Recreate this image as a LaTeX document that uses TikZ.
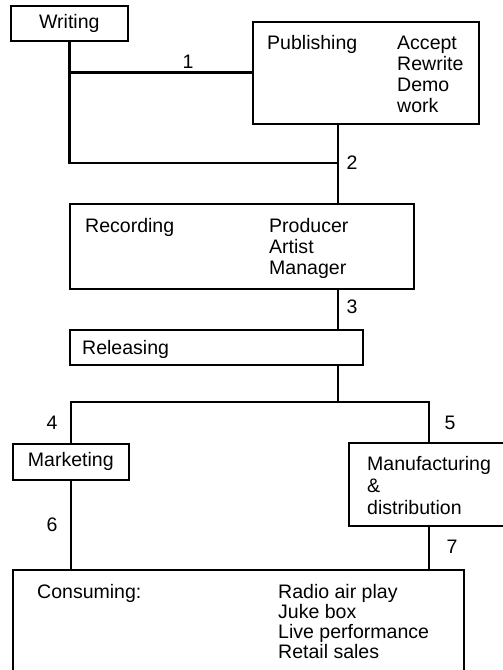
\documentclass[tikz,border=0pt]{standalone}
\usepackage{fontspec}
\setmainfont{Liberation Sans}
\begin{document}
\begin{tikzpicture}[x=1bp, y=-1bp,
  txt/.style={font=\fontsize{19.6}{21}\selectfont, inner sep=0pt},
  lbl/.style={txt, anchor=base west},
  num/.style={txt, anchor=center},
  stage/.style={draw, line width=1.6bp, anchor=north west, inner sep=0pt, txt},
  link/.style={line width=2.6bp}]
\clip (0,0) rectangle (503,670);

% stage boxes
\node[stage, minimum width=117bp, minimum height=35bp] (writing) at (10,5) {Writing};
\node[stage, minimum width=226bp, minimum height=102bp] (publishing) at (252,21) {};
\node[stage, minimum width=344bp, minimum height=85bp] (recording) at (69,203) {};
\node[stage, minimum width=293bp, minimum height=35bp] (releasing) at (69,329) {};
\node[stage, minimum width=116bp, minimum height=36bp] (marketing) at (12,443) {Marketing};
\node[stage, minimum width=165bp, minimum height=83bp] (manufacturing) at (348,442) {};
\node[stage, minimum width=451bp, minimum height=125bp] (consuming) at (12,569) {};

% texts inside the boxes
\node[lbl] (t-pub) at (267,50) {Publishing};
\foreach \t [count=\i] in {Accept,Rewrite,Demo,work}
  \node[lbl] (t-pub-\i) at (397,{50+21*(\i-1)}) {\t};
\node[lbl] (t-rec) at (85,232) {Recording};
\foreach \t [count=\i] in {Producer,Artist,Manager}
  \node[lbl] (t-rec-\i) at (269,{232+21*(\i-1)}) {\t};
\node[lbl] (t-rel) at (82,354) {Releasing};
\foreach \t [count=\i] in {Manufacturing,\&,distribution}
  \node[lbl] (t-man-\i) at (367,{470+22*(\i-1)}) {\t};
\node[lbl] (t-con) at (37,598) {Consuming:};
\foreach \t [count=\i] in {Radio air play,Juke box,Live performance,Retail sales}
  \node[lbl] (t-con-\i) at (278,{598+20*(\i-1)}) {\t};

% guide coordinates for the connectors
\coordinate (spine) at (338,0);
\coordinate (right) at (429,0);
\coordinate (join) at (338,163);
\coordinate (split) at (338,402);

% connectors
\draw[link] (writing.south) |- (publishing.west);
\draw[link] (writing.south) |- (join);
\draw[link] (publishing.south -| spine) -- (recording.north -| spine);
\draw[link] (recording.south -| spine) -- (releasing.north -| spine);
\draw[link] (releasing.south -| spine) -- (split);
\draw[link] (marketing.north) |- (split) -| (manufacturing.north -| right);
\draw[link] (marketing.south) -- (marketing.south |- consuming.north);
\draw[link] (manufacturing.south -| right) -- (consuming.north -| right);

% connector numbers
\node[num] (n1) at (188,62) {1};
\node[num] (n2) at (352,163) {2};
\node[num] (n3) at (352,307) {3};
\node[num] (n4) at (52,423) {4};
\node[num] (n5) at (450,423) {5};
\node[num] (n6) at (52,525) {6};
\node[num] (n7) at (452,547) {7};
\end{tikzpicture}
\end{document}
